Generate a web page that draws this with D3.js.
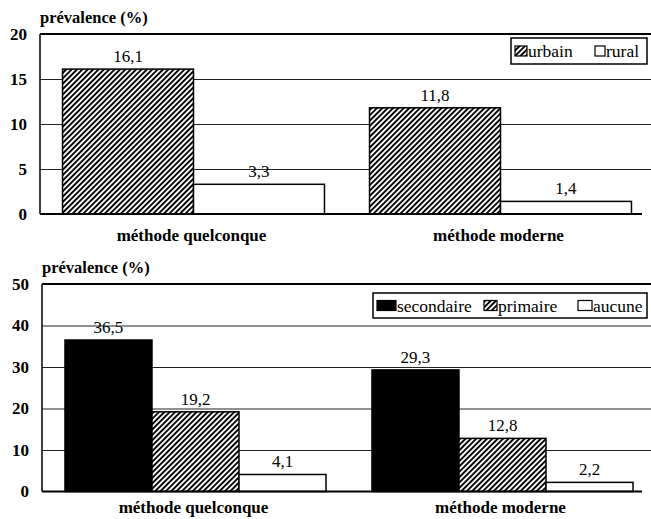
<!DOCTYPE html>
<html>
<head>
<meta charset="utf-8">
<script src="https://cdn.jsdelivr.net/npm/d3@7"></script>
<style>
  body { margin: 0; background: #fff; }
</style>
</head>
<body>
<svg id="chart" width="651" height="519"></svg>
<script>
// categories shared by both panels
const categories = ["méthode quelconque", "méthode moderne"];

// panel 1: milieu de résidence
const residenceSeries = ["urbain", "rural"];
const urbain = [16.1, 11.8];
const rural = [3.3, 1.4];
const residenceTicks = [0, 5, 10, 15, 20];

// panel 2: niveau d'instruction
const educationSeries = ["secondaire", "primaire", "aucune"];
const secondaire = [36.5, 29.3];
const primaire = [19.2, 12.8];
const aucune = [4.1, 2.2];
const educationTicks = [0, 10, 20, 30, 40, 50];

const serif = "'Liberation Serif', 'Noto Serif', 'DejaVu Serif', 'Nimbus Roman', FreeSerif, Times, serif";
const svg = d3.select("svg#chart").attr("font-family", serif);

// hatch pattern "/"
const defs = svg.append("defs");
defs.append("pattern")
    .attr("id", "hatch")
    .attr("patternUnits", "userSpaceOnUse")
    .attr("width", 3.8)
    .attr("height", 3.8)
    .attr("patternTransform", "rotate(45)")
    .call(p => {
        p.append("rect").attr("width", 3.8).attr("height", 3.8).attr("fill", "#fff");
        p.append("line")
            .attr("x1", 1).attr("y1", 0).attr("x2", 1).attr("y2", 3.8)
            .attr("stroke", "#000").attr("stroke-width", 1.9);
    });

const fillFor = {
    urbain: "url(#hatch)", rural: "#fff",
    secondaire: "#000", primaire: "url(#hatch)", aucune: "#fff"
};

const fmt = v => d3.format(".1f")(v).replace(".", ",");

function drawPanel(opts) {
    const g = svg.append("g");
    const { x0, xEnd, yTop, yBottom, ticks, series, values, outerPad, legend } = opts;

    const y = d3.scaleLinear().domain([0, d3.max(ticks)]).range([yBottom, yTop]);
    const x = d3.scaleBand().domain(categories).range([x0, x0 + 614]).padding(0);
    const xs = d3.scaleBand().domain(series).range([0, x.bandwidth()])
        .paddingInner(0).paddingOuter(outerPad);

    // gridlines
    g.append("g")
        .attr("transform", `translate(${x0},0)`)
        .call(d3.axisLeft(y).tickValues(ticks.slice(1, -1)).tickSize(-(xEnd - x0)).tickFormat(""))
        .call(a => a.select(".domain").remove())
        .call(a => a.selectAll("line").attr("stroke", "#222").attr("stroke-width", 1));

    // top border
    g.append("line")
        .attr("x1", x0).attr("x2", 651)
        .attr("y1", y(d3.max(ticks))).attr("y2", y(d3.max(ticks)))
        .attr("stroke", "#000").attr("stroke-width", 2);

    // tick labels
    g.append("g")
        .attr("transform", `translate(${x0},0)`)
        .call(d3.axisLeft(y).tickValues(ticks).tickSize(0).tickPadding(13))
        .call(a => a.select(".domain").remove())
        .call(a => a.selectAll("text")
            .attr("font-family", serif)
            .attr("font-size", 17)
            .attr("font-weight", "bold")
            .attr("fill", "#000"));

    // y title
    g.append("text")
        .attr("x", x0).attr("y", yTop - 11)
        .attr("font-size", 16.5).attr("font-weight", "bold")
        .text("prévalence (%)");

    // bars
    const rows = categories.map((c, i) => series.map((s, j) => ({ cat: c, s, v: values[j][i] }))).flat();
    g.selectAll("rect.bar")
        .data(rows)
        .join("rect")
        .attr("class", "bar")
        .attr("x", d => x(d.cat) + xs(d.s))
        .attr("y", d => y(d.v))
        .attr("width", xs.bandwidth())
        .attr("height", d => y(0) - y(d.v))
        .attr("fill", d => fillFor[d.s])
        .attr("stroke", "#000")
        .attr("stroke-width", 1.5);

    g.selectAll("text.val")
        .data(rows)
        .join("text")
        .attr("class", "val")
        .attr("x", d => x(d.cat) + xs(d.s) + xs.bandwidth() / 2)
        .attr("y", d => y(d.v) - 7)
        .attr("text-anchor", "middle")
        .attr("font-size", 17)
        .text(d => fmt(d.v));

    // left axis and baseline
    g.append("line")
        .attr("x1", x0).attr("x2", x0)
        .attr("y1", yTop).attr("y2", yBottom)
        .attr("stroke", "#000").attr("stroke-width", 1.5);
    g.append("line")
        .attr("x1", x0).attr("x2", 642)
        .attr("y1", yBottom).attr("y2", yBottom)
        .attr("stroke", "#000").attr("stroke-width", 2);

    // category labels
    g.selectAll("text.cat")
        .data(categories)
        .join("text")
        .attr("class", "cat")
        .attr("x", d => x(d) + x.bandwidth() / 2 - 2)
        .attr("y", yBottom + opts.catGap)
        .attr("text-anchor", "middle")
        .attr("font-size", 17)
        .attr("font-weight", "bold")
        .text(d => d);

    // legend
    const lg = g.append("g");
    lg.append("rect")
        .attr("x", legend.x).attr("y", legend.y)
        .attr("width", legend.w).attr("height", legend.h)
        .attr("fill", "#fff").attr("stroke", "#000").attr("stroke-width", 1.5);
    series.forEach((s, i) => {
        const lx = legend.items[i];
        lg.append("rect")
            .attr("x", lx).attr("y", legend.y + legend.h / 2 - 5)
            .attr("width", legend.sw[i]).attr("height", 10)
            .attr("fill", fillFor[s]).attr("stroke", "#000").attr("stroke-width", 1.2);
        lg.append("text")
            .attr("x", lx + legend.sw[i] + 1).attr("y", legend.y + legend.h / 2 + 6)
            .attr("font-size", 17.5)
            .text(s);
    });
}

drawPanel({
    x0: 40, xEnd: 651, yTop: 34, yBottom: 214,
    ticks: residenceTicks, series: residenceSeries, values: [urbain, rural],
    outerPad: 0.172, catGap: 27,
    legend: { x: 511, y: 38, w: 136, h: 26, items: [515, 595], sw: [12, 10] }
});

drawPanel({
    x0: 42, xEnd: 651, yTop: 284, yBottom: 491.5,
    ticks: educationTicks, series: educationSeries, values: [secondaire, primaire, aucune],
    outerPad: 0.264, catGap: 21,
    legend: { x: 373, y: 293, w: 274, h: 25, items: [377, 484, 578], sw: [19, 13, 14] }
});
</script>
</body>
</html>
